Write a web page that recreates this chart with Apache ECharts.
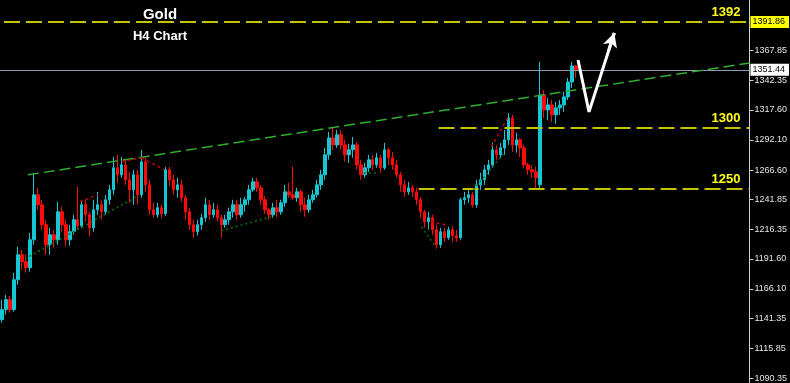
<!DOCTYPE html>
<html><head><meta charset="utf-8">
<script src="https://cdn.jsdelivr.net/npm/echarts@6/dist/echarts.min.js"></script>
<style>html,body{margin:0;padding:0;background:#000;overflow:hidden}#c{width:790px;height:383px}</style>
</head><body><div id="c"></div>
<script>
// H4 candles (price values)
const opens=[1140.1,1148.6,1157.0,1148.6,1173.9,1195.0,1189.1,1184.0,1207.7,1245.7,
1237.3,1220.4,1203.5,1211.9,1207.7,1231.3,1220.4,1207.7,1214.5,1224.6,
1219.5,1237.3,1228.8,1217.8,1233.0,1237.3,1231.3,1241.5,1249.9,1268.5,
1262.6,1271.0,1258.4,1249.9,1262.6,1245.7,1273.6,1254.1,1233.0,1228.8,
1234.7,1229.7,1266.8,1258.4,1249.9,1254.1,1243.2,1231.3,1220.4,1214.5,
1220.4,1226.3,1237.3,1228.8,1233.0,1226.3,1220.4,1224.6,1231.3,1237.3,
1228.8,1237.3,1241.5,1249.9,1256.7,1251.6,1241.5,1233.0,1228.8,1234.7,
1231.3,1238.9,1248.2,1245.7,1243.2,1248.2,1237.3,1233.0,1241.5,1245.7,
1254.1,1262.6,1279.5,1293.8,1287.9,1296.4,1287.9,1279.5,1283.7,1287.9,
1271.0,1262.6,1268.5,1275.3,1271.0,1277.0,1268.5,1283.7,1277.0,1271.0,
1262.6,1254.1,1248.2,1251.6,1248.2,1241.5,1231.3,1222.9,1226.3,1216.1,
1203.5,1214.5,1209.4,1216.1,1211.1,1209.4,1241.5,1243.2,1245.7,1237.3,
1254.1,1258.4,1266.8,1271.0,1283.7,1279.5,1285.4,1292.2,1310.7,1287.9,
1292.2,1285.4,1271.0,1266.8,1265.1,1254.1,1330.2,1317.5,1321.7,1313.3,
1319.2,1321.7,1328.5,1341.1,1354.7];
const closes=[1148.6,1157.0,1148.6,1173.9,1195.0,1189.1,1184.0,1207.7,1245.7,1237.3,
1220.4,1203.5,1211.9,1207.7,1231.3,1220.4,1207.7,1214.5,1224.6,1219.5,
1237.3,1228.8,1217.8,1233.0,1237.3,1231.3,1241.5,1249.9,1268.5,1262.6,
1271.0,1258.4,1249.9,1262.6,1245.7,1273.6,1254.1,1233.0,1228.8,1234.7,
1229.7,1266.8,1258.4,1249.9,1254.1,1243.2,1231.3,1220.4,1214.5,1220.4,
1226.3,1237.3,1228.8,1233.0,1226.3,1220.4,1224.6,1231.3,1237.3,1228.8,
1237.3,1241.5,1249.9,1256.7,1251.6,1241.5,1233.0,1228.8,1234.7,1231.3,
1238.9,1248.2,1245.7,1243.2,1248.2,1237.3,1233.0,1241.5,1245.7,1254.1,
1262.6,1279.5,1293.8,1287.9,1296.4,1287.9,1279.5,1283.7,1287.9,1271.0,
1262.6,1268.5,1275.3,1271.0,1277.0,1268.5,1283.7,1277.0,1271.0,1262.6,
1254.1,1248.2,1251.6,1248.2,1241.5,1231.3,1222.9,1226.3,1216.1,1203.5,
1214.5,1209.4,1216.1,1211.1,1209.4,1241.5,1243.2,1245.7,1237.3,1254.1,
1258.4,1266.8,1271.0,1283.7,1279.5,1285.4,1292.2,1310.7,1287.9,1292.2,
1285.4,1271.0,1266.8,1265.1,1260.1,1330.2,1317.5,1321.7,1313.3,1319.2,
1321.7,1328.5,1341.1,1354.7,1351.4];
const lows=[1137.6,1144.4,1146.0,1146.9,1169.7,1182.4,1179.8,1180.7,1203.5,1233.0,
1216.1,1195.0,1195.0,1200.9,1203.5,1214.5,1201.8,1202.6,1211.9,1216.1,
1217.8,1222.9,1210.2,1214.5,1228.8,1224.6,1228.8,1237.3,1245.7,1255.8,
1260.1,1254.1,1238.9,1237.3,1237.3,1243.2,1248.2,1228.8,1226.3,1226.3,
1226.3,1228.0,1253.3,1245.7,1243.2,1239.8,1224.6,1216.1,1209.4,1211.1,
1216.1,1222.9,1224.6,1226.3,1222.9,1209.4,1217.8,1220.4,1226.3,1224.6,
1226.3,1231.3,1237.3,1248.2,1248.2,1237.3,1229.7,1224.6,1226.3,1227.1,
1228.8,1235.6,1243.2,1241.5,1239.8,1231.3,1227.1,1230.5,1238.9,1243.2,
1249.9,1258.4,1275.3,1283.7,1285.4,1283.7,1273.6,1272.7,1277.0,1266.8,
1258.4,1260.1,1265.1,1266.8,1268.5,1264.3,1266.8,1271.0,1266.8,1260.1,
1248.2,1244.0,1245.7,1244.0,1237.3,1226.3,1217.8,1216.1,1211.9,1200.1,
1200.9,1206.0,1207.7,1206.0,1206.0,1207.7,1237.3,1238.9,1234.7,1234.7,
1249.9,1254.1,1262.6,1268.5,1275.3,1277.0,1279.5,1287.9,1282.0,1281.2,
1277.8,1268.5,1262.6,1260.1,1250.8,1250.8,1310.7,1309.0,1307.4,1305.7,
1313.3,1315.8,1325.9,1336.1,1344.5];
const highs=[1157.0,1161.2,1160.4,1179.8,1201.8,1199.2,1195.0,1213.6,1264.3,1251.6,
1241.5,1224.6,1217.8,1216.1,1239.8,1235.6,1224.6,1220.4,1228.8,1252.5,
1241.5,1241.5,1231.3,1241.5,1248.2,1241.5,1245.7,1254.1,1277.8,1279.5,
1277.8,1275.3,1265.1,1266.8,1266.8,1283.7,1277.0,1258.4,1238.9,1238.9,
1237.3,1269.4,1269.4,1262.6,1260.1,1258.4,1245.7,1234.7,1224.6,1224.6,
1229.7,1243.2,1241.5,1238.9,1237.3,1228.8,1228.8,1234.7,1241.5,1241.5,
1243.2,1244.0,1254.1,1260.1,1260.1,1254.1,1244.8,1234.7,1238.9,1241.5,
1241.5,1254.1,1255.8,1269.4,1251.6,1249.9,1243.2,1245.7,1249.9,1258.4,
1266.8,1285.4,1298.9,1302.3,1300.6,1300.6,1292.2,1288.8,1294.7,1290.5,
1275.3,1272.7,1279.5,1279.5,1281.2,1279.5,1289.6,1285.4,1282.0,1275.3,
1265.1,1258.4,1256.7,1254.1,1251.6,1244.0,1233.0,1231.3,1228.8,1220.4,
1217.8,1217.8,1218.7,1219.5,1216.1,1243.2,1248.2,1249.9,1248.2,1258.4,
1264.3,1271.0,1275.3,1289.6,1287.9,1289.6,1300.6,1315.0,1313.3,1298.1,
1293.8,1287.9,1272.7,1271.0,1269.4,1358.0,1334.4,1327.6,1325.9,1324.2,
1325.9,1332.7,1344.5,1358.0,1355.5];

// price scale tick labels
const tickValues=[1367.85,1342.35,1317.60,1292.10,1266.60,1241.85,1216.35,1191.60,1166.10,1141.35,1115.85,1090.35];
const level1392=1391.86, currentPrice=1351.44, level1300=1302.0, level1250=1251.0;
const levelNames=['1392','1300','1250'];

// drawn annotations (bar-index, price)
const upperTrend=[[6.5,1262.6],[187.5,1357.2]];
const greenDotted=[[[5.75,1191.6],[33.75,1244.0]],[[55,1215.3],[67.5,1227.1]],[[90.75,1264.3],[94.5,1264.3]],[[105.25,1218.7],[108.75,1201.8]],[[118.25,1249.9],[125.75,1280.3]]];
const redDotted=[[[19.5,1239.8],[24,1245.7]],[[30,1273.6],[35,1277.0]],[[35,1277.0],[40.75,1266.8]],[[107.5,1222.9],[111.25,1220.4]],[[122.75,1286.2],[127,1311.6]]];
const arrowPath=[[144.5,1359.7],[147.25,1315.8],[153.6,1382.5]];

const N=188;
const categories=Array.from({length:N},(_,i)=>String(i));
const candles=opens.map((o,i)=>[o,closes[i],lows[i],highs[i]]);

const yellow='#c4c400', ylabel='#ffff1a';
const font='Liberation Sans';
const lvlLabel=(t)=>({show:true,position:'insideEndTop',formatter:t,distance:[9,3],color:ylabel,fontSize:13,fontWeight:'bold',fontFamily:font});
const priceBox=(t,bg)=>({show:true,position:'end',formatter:t,distance:1,color:'#000',backgroundColor:bg,fontSize:9,fontFamily:font,padding:[2,4,1,2]});
const noLabel={show:false};

const ml=[];
ml.push([{coord:[0.5,level1392],lineStyle:{color:yellow,width:2,type:[16,6]},label:lvlLabel(levelNames[0])},{coord:[187.5,level1392]}]);
ml.push([{coord:[0.5,level1392],lineStyle:{color:'rgba(0,0,0,0)',width:1,type:'solid'},label:priceBox('1391.86','#ffff00')},{coord:[187.5,level1392]}]);
ml.push([{coord:[109.5,level1300],lineStyle:{color:yellow,width:2,type:[16,6]},label:lvlLabel(levelNames[1])},{coord:[187.5,level1300]}]);
ml.push([{coord:[104.5,level1250],lineStyle:{color:yellow,width:2,type:[16,6]},label:lvlLabel(levelNames[2])},{coord:[187.5,level1250]}]);
ml.push([{coord:[-0.5,currentPrice],lineStyle:{color:'#8d9db2',width:1,type:'solid'},label:priceBox('1351.44','#ffffff')},{coord:[187.5,currentPrice]}]);
ml.push([{coord:upperTrend[0],lineStyle:{color:'#2fae2f',width:1.5,type:[11,5]},label:noLabel},{coord:upperTrend[1]}]);
greenDotted.forEach(s=>ml.push([{coord:s[0],lineStyle:{color:'#0b700b',width:1.5,type:[2,3]},label:noLabel},{coord:s[1]}]));
redDotted.forEach(s=>ml.push([{coord:s[0],lineStyle:{color:'#c00000',width:1.5,type:[3,3]},label:noLabel},{coord:s[1]}]));
ml.push([{coord:[152.2,1368.0],symbol:'none',lineStyle:{color:'#fff',width:3,type:'solid'},label:noLabel},{coord:arrowPath[2],symbol:'arrow',symbolSize:[11,14]}]);

const chart=echarts.init(document.getElementById('c'),null,{renderer:'canvas'});
chart.setOption({
  animation:false,
  backgroundColor:'#000',
  grid:{left:0,right:38,top:0,bottom:0},
  graphic:[
    {type:'text',x:160,y:7,style:{text:'Gold',fill:'#fff',font:'bold 15px "Liberation Sans"',textAlign:'center',textVerticalAlign:'top'}},
    {type:'text',x:160,y:30,style:{text:'H4 Chart',fill:'#fff',font:'bold 13px "Liberation Sans"',textAlign:'center',textVerticalAlign:'top'}}
  ],
  xAxis:[
    {type:'category',data:categories,boundaryGap:true,show:false},
    {type:'value',min:-0.5,max:187.5,show:false}
  ],
  yAxis:{type:'value',position:'right',min:1086.97,max:1410.44,
    splitLine:{show:false},
    axisLine:{show:true,onZero:false,lineStyle:{color:'#d0d0d0',width:1}},
    axisTick:{show:true,length:4,customValues:tickValues,lineStyle:{color:'#d0d0d0'}},
    axisLabel:{show:true,customValues:tickValues,margin:5,color:'#e6e6e6',fontSize:9,fontFamily:font,formatter:v=>v.toFixed(2)}
  },
  series:[
    {type:'candlestick',xAxisIndex:0,yAxisIndex:0,data:candles,barWidth:3,
      itemStyle:{color:'#16c6d2',color0:'#ff0a0a',borderColor:'#16c6d2',borderColor0:'#ff0a0a',borderWidth:1}},
    {type:'line',xAxisIndex:1,yAxisIndex:0,data:arrowPath,showSymbol:false,symbol:'none',
      lineStyle:{color:'#ffffff',width:3},z:5,
      markLine:{silent:true,animation:false,symbol:['none','none'],data:ml}}
  ]
});
</script></body></html>
